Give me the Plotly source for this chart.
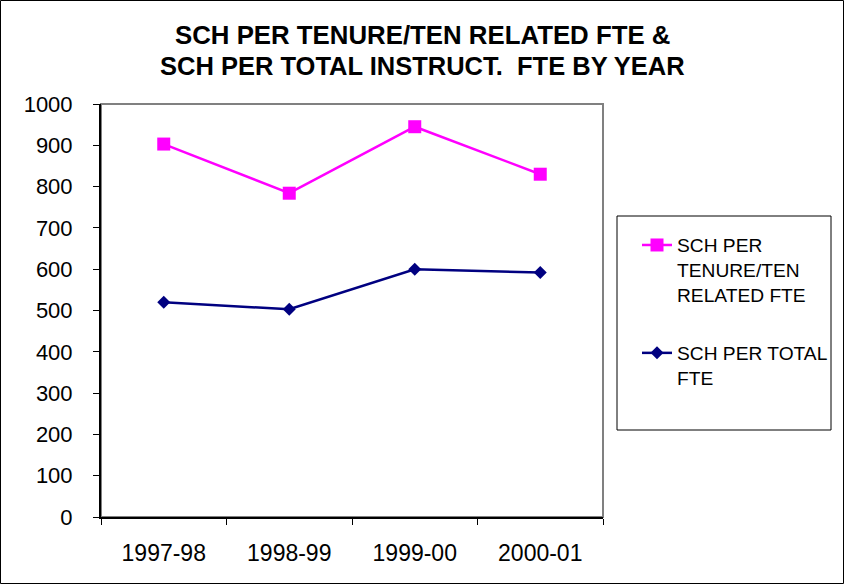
import plotly.graph_objects as go

# Academic years on the category axis
years = ["1997-98", "1998-99", "1999-00", "2000-01"]

# Student credit hours per tenure/tenure-related FTE
sch_tenure = [903, 784, 945, 830]
# Student credit hours per total instructional FTE
sch_total = [520, 503, 600, 592]

tenure_name = "SCH PER<br>TENURE/TEN<br>RELATED FTE"
total_name = "SCH PER TOTAL<br>FTE"

title_lines = ["SCH PER TENURE/TEN RELATED FTE &",
               "SCH PER TOTAL INSTRUCT.  FTE BY YEAR"]

y_ticks = list(range(0, 1001, 100))

W, H = 844, 584
L, R, T, B = 101, 603, 104, 517  # plot area in pixels
pw, ph = R - L, B - T


def px_x(x):
    return (x - L) / pw


def px_y(y):
    return (B - y) / ph


FONT = "Liberation Sans, Arial, sans-serif"

fig = go.Figure()
fig.add_trace(go.Scatter(
    x=years, y=sch_tenure, name=tenure_name, mode="lines+markers",
    line=dict(color="#FF00FF", width=2.5),
    marker=dict(symbol="square", size=13, color="#FF00FF"),
    legendgroup="a",
))
fig.add_trace(go.Scatter(
    x=years, y=sch_total, name=total_name, mode="lines+markers",
    line=dict(color="#000080", width=2.5),
    marker=dict(symbol="diamond", size=10, color="#000080"),
    legendgroup="b",
))

shapes = [
    # plot-area frame (grey on top and right)
    dict(type="rect", xref="paper", yref="paper", x0=0, x1=1, y0=0, y1=1,
         line=dict(color="#808080", width=2), layer="below"),
    # legend frame
    dict(type="rect", xref="paper", yref="paper",
         x0=px_x(617), x1=px_x(831), y0=px_y(430), y1=px_y(216),
         line=dict(color="#000000", width=1)),
    # outer chart border
    dict(type="rect", xref="paper", yref="paper",
         x0=px_x(0.5), x1=px_x(843.5), y0=px_y(583.5), y1=px_y(0.5),
         line=dict(color="#000000", width=1)),
]

annotations = [
    dict(text=f"<b>{title_lines[0]}</b>", xref="paper", yref="paper",
         x=px_x(422), y=px_y(35.5), xanchor="center", yanchor="middle",
         showarrow=False, font=dict(family=FONT, size=25.8, color="#000000")),
    dict(text=f"<b>{title_lines[1]}</b>", xref="paper", yref="paper",
         x=px_x(422), y=px_y(66), xanchor="center", yanchor="middle",
         showarrow=False, font=dict(family=FONT, size=25.5, color="#000000")),
]

fig.update_layout(
    width=W, height=H,
    margin=dict(l=L, r=W - R, t=T, b=H - B, pad=0, autoexpand=False),
    paper_bgcolor="#FFFFFF", plot_bgcolor="#FFFFFF",
    font=dict(family=FONT, color="#000000"),
    showlegend=True,
    legend=dict(
        x=px_x(637), y=px_y(226), xanchor="left", yanchor="top",
        bgcolor="rgba(0,0,0,0)", borderwidth=0,
        font=dict(family=FONT, size=19.2, color="#000000"),
        valign="top", tracegroupgap=30,
    ),
    shapes=shapes,
    annotations=annotations,
)

fig.update_xaxes(
    type="category", tickson="boundaries",
    showgrid=False, zeroline=False,
    showline=True, linecolor="#000000", linewidth=2,
    ticks="outside", ticklen=6, tickcolor="#000000", tickwidth=1,
    tickfont=dict(family=FONT, size=23, color="#000000"),
    ticklabelstandoff=14,
    range=[-0.5, 3.5],
)
fig.update_yaxes(
    range=[0, 1000], tickvals=y_ticks,
    showgrid=False, zeroline=False,
    showline=True, linecolor="#000000", linewidth=2,
    ticks="outside", ticklen=6, tickcolor="#000000", tickwidth=1,
    tickfont=dict(family=FONT, size=22, color="#000000"),
    ticklabelstandoff=16,
)

fig.write_html("out.html")
